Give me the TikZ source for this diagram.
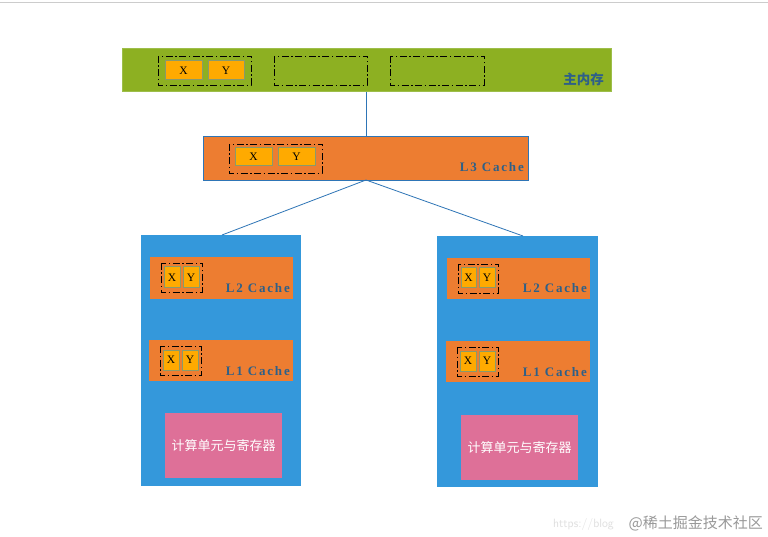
\documentclass[tikz,border=0pt]{standalone}
\usepackage{fontspec}
\newfontfamily\cjk{Noto Sans CJK SC}
\newfontfamily\lblf[LetterSpace=14]{Liberation Serif}
\newfontfamily\xyf{Liberation Serif}
\definecolor{memgreen}{HTML}{8DB022}
\definecolor{memborder}{HTML}{9DBE4A}
\definecolor{cacheor}{HTML}{ED7D31}
\definecolor{cpublue}{HTML}{3498DB}
\definecolor{pinkbox}{HTML}{DE7098}
\definecolor{xyfill}{HTML}{FFAA00}
\definecolor{xyborder}{HTML}{8A9A6A}
\definecolor{labelblue}{HTML}{2E6088}
\definecolor{linkblue}{HTML}{2E75B6}
\begin{document}
\begin{tikzpicture}[x=1pt,y=-1pt,
  blk/.style={draw=none,inner sep=0pt,outer sep=0pt},
  dd/.style={draw=black,line width=0.9pt,dash pattern=on 7pt off 2.5pt on 1.5pt off 2.5pt},
  xy/.style={fill=xyfill,draw=xyborder,line width=1pt},
  xyt/.style={font=\xyf\fontsize{11.5}{11.5}\selectfont,inner sep=0pt},
  lbl/.style={font=\lblf\bfseries\fontsize{13}{13}\selectfont,text=labelblue,anchor=base east,inner sep=0pt},
  link/.style={draw=linkblue,line width=0.8pt}
]
\useasboundingbox (0,0) rectangle (768,537);
\fill[white] (0,0) rectangle (768,537);
\draw[gray!40,line width=1pt] (0,2.5) -- (768,2.5);

% main memory
\path[fill=memgreen,draw=memborder,line width=1pt] (122,49) rectangle (611,92);
\node[blk,minimum width=489pt,minimum height=43pt] (mem) at (366.5,70.5) {};
\node[lbl,font=\cjk\bfseries\fontsize{13.5}{13.5}\selectfont] (memlbl) at (604,84.5) {主内存};
\draw[dd] (158,56) rectangle (251,85);
\draw[dd] (274,56) rectangle (367,85);
\draw[dd] (390,56) rectangle (484,85);
\path[xy] (165,61) rectangle (202,80); \node[xyt] (mx) at (183.5,70.5) {X};
\path[xy] (208,61) rectangle (244,80); \node[xyt] (my) at (226,70.5) {Y};

% L3
\path[fill=cacheor,draw=linkblue,line width=0.8pt] (203,136) rectangle (528,180);
\node[blk,minimum width=325pt,minimum height=44pt] (l3) at (365.5,158) {};
\node[lbl] (l3lbl) at (524,172) {L3 Cache};
\draw[dd] (229,144) rectangle (322,173);
\path[xy] (235,148) rectangle (272,166); \node[xyt] (l3x) at (253.5,157) {X};
\path[xy] (278,148) rectangle (315,166); \node[xyt] (l3y) at (296.5,157) {Y};

% CPUs
\path[fill=cpublue] (141,235) rectangle (301,486);
\node[blk,minimum width=160pt,minimum height=251pt] (cpuL) at (221,360.5) {};
\path[fill=cpublue] (437,236) rectangle (598,487);
\node[blk,minimum width=161pt,minimum height=251pt] (cpuR) at (517.5,361.5) {};

% links
\coordinate (l3b) at (366,180);
\draw[link] (366,92) -- (366,136);
\draw[link] (l3b) -- (222,235);
\draw[link] (l3b) -- (523,236);

% left L2
\path[fill=cacheor] (150,257) rectangle (293,299);
\node[lbl] (lL2) at (290,292.5) {L2 Cache};
\draw[dd] (161,263) rectangle (202,292);
\path[xy] (164,267) rectangle (180,288); \node[xyt] (lL2x) at (172,277.5) {X};
\path[xy] (183,267) rectangle (199,288); \node[xyt] (lL2y) at (191,277.5) {Y};
% left L1
\path[fill=cacheor] (149,340) rectangle (293,381);
\node[lbl] (lL1) at (290,375.5) {L1 Cache};
\draw[dd] (160,346) rectangle (201,375);
\path[xy] (163,350) rectangle (179,370); \node[xyt] (lL1x) at (171,360) {X};
\path[xy] (182,350) rectangle (198,370); \node[xyt] (lL1y) at (190,360) {Y};
% left ALU
\path[fill=pinkbox] (165,413) rectangle (282,478);
\node[font=\cjk\fontsize{13}{13}\selectfont,text=white] (aluL) at (223.5,446) {计算单元与寄存器};

% right L2
\path[fill=cacheor] (447,258) rectangle (590,299);
\node[lbl] (rL2) at (587,293) {L2 Cache};
\draw[dd] (458,264) rectangle (498,293);
\path[xy] (461,268) rectangle (476,288); \node[xyt] (rL2x) at (468.5,278) {X};
\path[xy] (479,268) rectangle (495,288); \node[xyt] (rL2y) at (487,278) {Y};
% right L1
\path[fill=cacheor] (446,341) rectangle (590,382);
\node[lbl] (rL1) at (587,376.5) {L1 Cache};
\draw[dd] (457,347) rectangle (498,376);
\path[xy] (460,351) rectangle (476,371); \node[xyt] (rL1x) at (468,361) {X};
\path[xy] (479,351) rectangle (495,371); \node[xyt] (rL1y) at (487,361) {Y};
% right ALU
\path[fill=pinkbox] (461,415) rectangle (578,480);
\node[font=\cjk\fontsize{13}{13}\selectfont,text=white] (aluR) at (519.5,447.5) {计算单元与寄存器};

% watermark
\node[font=\fontsize{12}{12}\selectfont\sffamily,text=gray!25,anchor=base west,inner sep=0pt] (wm1) at (553,527) {https://blog};
\node[font=\cjk\fontsize{15}{15}\selectfont,text=gray!80,anchor=base east,inner sep=0pt] (wm2) at (763,528) {@稀土掘金技术社区};
\end{tikzpicture}
\end{document}
